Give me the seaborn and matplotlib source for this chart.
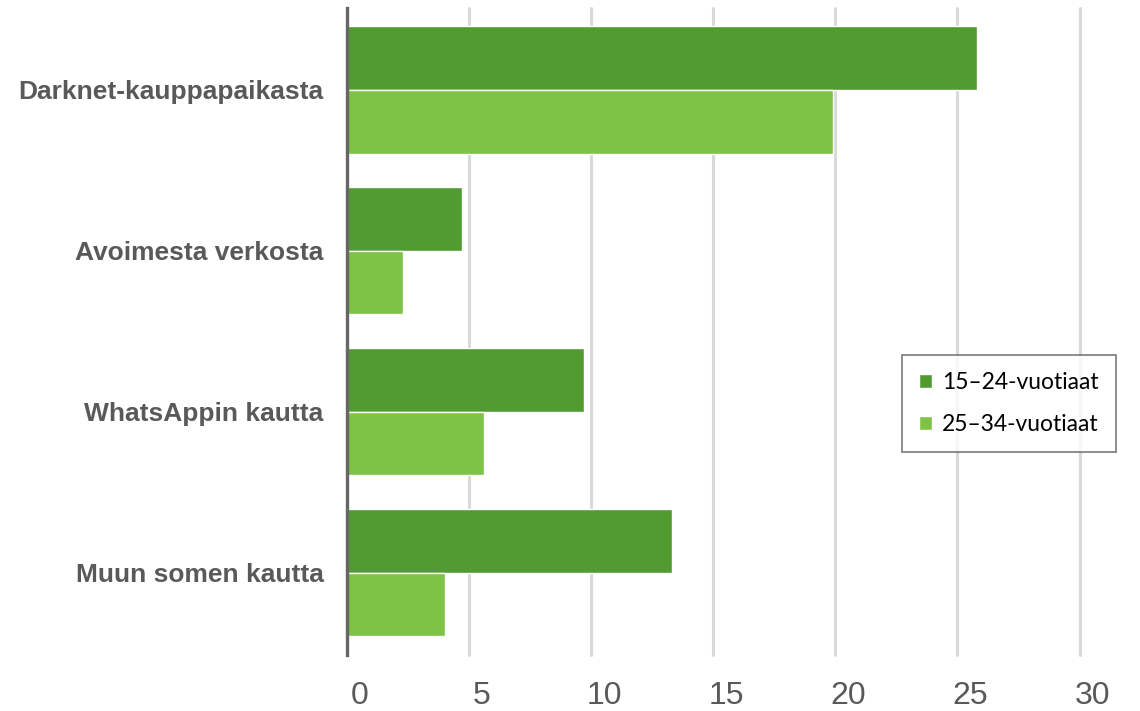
import numpy as np
import pandas as pd
import matplotlib
matplotlib.use("Agg")
import matplotlib.pyplot as plt
import matplotlib.transforms as mtransforms
import seaborn as sns

# Chart data
categories = ["Darknet-kauppapaikasta", "Avoimesta verkosta",
              "WhatsAppin kautta", "Muun somen kautta"]
groups = ["15–24-vuotiaat", "25–34-vuotiaat"]
values_15_24 = [25.8, 4.7, 9.7, 13.3]
values_25_34 = [19.9, 2.3, 5.6, 4.0]
x_ticks = [0, 5, 10, 15, 20, 25, 30]

df = pd.DataFrame({
    "Kanava": categories * 2,
    "Ryhma": [groups[0]] * 4 + [groups[1]] * 4,
    "Arvo": values_15_24 + values_25_34,
})

sns.set_theme(style="white")
plt.rcParams['font.family'] = ['Liberation Sans', 'DejaVu Sans']

fig = plt.figure(figsize=(11.4, 7.11), dpi=100)
ax = fig.add_axes([0.3044, 0.0788, 0.6426, 0.9102])

palette = {groups[0]: "#529B30", groups[1]: "#7EC246"}
sns.barplot(data=df, y="Kanava", x="Arvo", hue="Ryhma", order=categories,
            hue_order=groups, palette=palette, orient="h", width=0.79,
            edgecolor="white", linewidth=1.0, saturation=1, ax=ax, zorder=3)

ax.set_xlim(0, 30)
ax.set_ylim(3.51, -0.51)
ax.set_xticks(x_ticks)
ax.xaxis.grid(True, color="#D9D9D9", linewidth=2.2, zorder=0)
for gl in ax.get_xgridlines():
    gl.set_clip_on(False)
ax.set_axisbelow(True)
ax.set_xlabel(None)
ax.set_ylabel(None)

for side in ["top", "right", "bottom"]:
    ax.spines[side].set_visible(False)
ax.spines["left"].set_color("#666666")
ax.spines["left"].set_linewidth(2.4)
ax.spines["left"].set_zorder(5)

ax.tick_params(axis="x", length=0, pad=19, labelsize=23, labelcolor="#595959")
ax.tick_params(axis="y", length=0, pad=17, labelsize=19, labelcolor="#595959")
for lbl in ax.get_yticklabels():
    lbl.set_fontweight("bold")

shift = mtransforms.ScaledTranslation(13 / 100, 0, fig.dpi_scale_trans)
for lbl in ax.get_xticklabels():
    lbl.set_transform(lbl.get_transform() + shift)

leg = ax.legend(loc="upper left", bbox_to_anchor=(0.791, 0.5007),
                bbox_transform=fig.transFigure, frameon=True, fancybox=False,
                prop={"family": "Lato", "size": 16.5}, handlelength=0.55,
                handleheight=0.55, handletextpad=0.45, labelspacing=0.9,
                borderpad=0.75, borderaxespad=0)
leg.get_frame().set_edgecolor("#595959")
leg.get_frame().set_linewidth(1.2)
for t in leg.get_texts():
    t.set_color("#000000")

fig.savefig("out.png", dpi=100)
